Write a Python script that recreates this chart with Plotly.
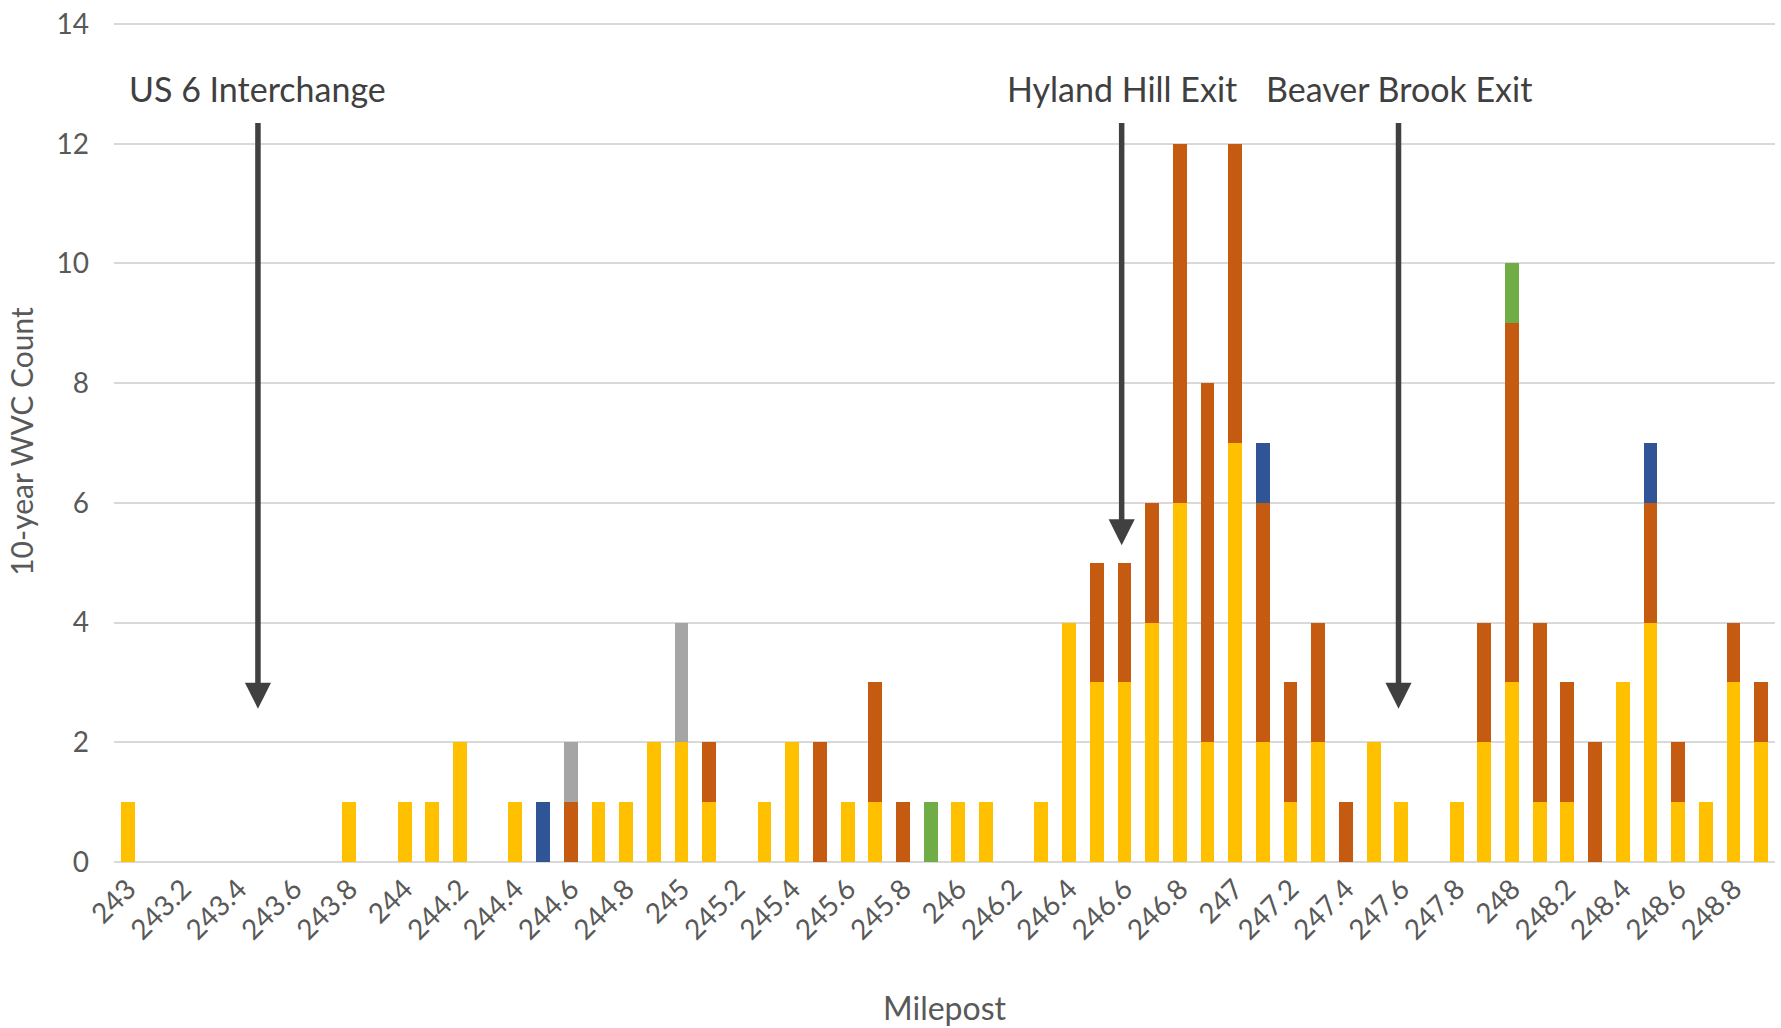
import plotly.graph_objects as go

# Milepost categories 243.0 .. 248.9
mileposts = [f"{243 + i/10:.1f}".rstrip("0").rstrip(".") for i in range(60)]

yellow = [1,0,0,0,0,0,0,0,1,0, 1,1,2,0,1,0,0,1,1,2,
          2,1,0,1,2,0,1,1,0,0, 1,1,0,1,4,3,3,4,6,2,
          7,2,1,2,0,2,1,0,1,2, 3,1,1,0,3,4,1,1,3,2]
orange = [0,0,0,0,0,0,0,0,0,0, 0,0,0,0,0,0,1,0,0,0,
          0,1,0,0,0,2,0,2,1,0, 0,0,0,0,0,2,2,2,6,6,
          5,4,2,2,1,0,0,0,0,2, 6,3,2,2,0,2,1,0,1,1]
gray   = [0]*16 + [1,0,0,0, 2] + [0]*39
blue   = [0]*15 + [1] + [0]*25 + [1] + [0]*13 + [1] + [0]*4
green  = [0]*29 + [1] + [0]*20 + [1] + [0]*9

series = [
    ("Series A", yellow, "#FFC000"),
    ("Series B", orange, "#C55A11"),
    ("Series C", gray, "#A5A5A5"),
    ("Series D", blue, "#2F5597"),
    ("Series E", green, "#70AD47"),
]

# Annotations: label, milepost of arrow, arrow tip value
notes = [
    ("US 6 Interchange", 243.47, 2.56),
    ("Hyland Hill Exit", 246.59, 5.29),
    ("Beaver Brook Exit", 247.59, 2.56),
]
arrow_top = 12.37
label_y = 12.92

FONT = "Lato"

fig = go.Figure()
for name, vals, col in series:
    fig.add_trace(go.Bar(x=mileposts, y=vals, name=name, marker_color=col,
                         marker_line_width=0))

for text, mp, tip in notes:
    xi = (mp - 243) * 10
    fig.add_annotation(x=xi, y=tip, ax=xi, ay=arrow_top, xref="x", yref="y",
                       axref="x", ayref="y", text="", showarrow=True,
                       arrowhead=2, arrowsize=0.95, arrowwidth=5.5,
                       arrowcolor="#404040")
    fig.add_annotation(x=xi, y=label_y, xref="x", yref="y", text=text,
                       showarrow=False, font=dict(family=FONT, size=34, color="#404040"))

fig.update_layout(
    width=1781, height=1028,
    barmode="stack", bargap=0.5,
    showlegend=False,
    plot_bgcolor="white", paper_bgcolor="white",
    margin=dict(l=114, r=6, t=19, b=166),
    font=dict(family=FONT, color="#595959"),
)
fig.update_xaxes(
    type="category",
    tickmode="array", tickvals=mileposts[::2], ticktext=mileposts[::2],
    tickangle=-45, tickfont=dict(size=28, color="#595959"),
    showgrid=False, ticks="", showline=False, ticklabelstandoff=4,
    title=dict(text="Milepost", font=dict(size=32, color="#595959"), standoff=52),
)
fig.update_yaxes(
    range=[0, 14.05], dtick=2, showgrid=True, gridcolor="#D9D9D9", gridwidth=2,
    zeroline=True, zerolinecolor="#D9D9D9", zerolinewidth=2,
    tickfont=dict(size=28, color="#595959"), ticks="", ticklabelstandoff=24,
    title=dict(text="10-year WVC Count", font=dict(size=30, color="#595959"), standoff=14),
)

fig.write_html("out.html", config={"displayModeBar": False},
               post_script="document.body.style.margin='0px';")
